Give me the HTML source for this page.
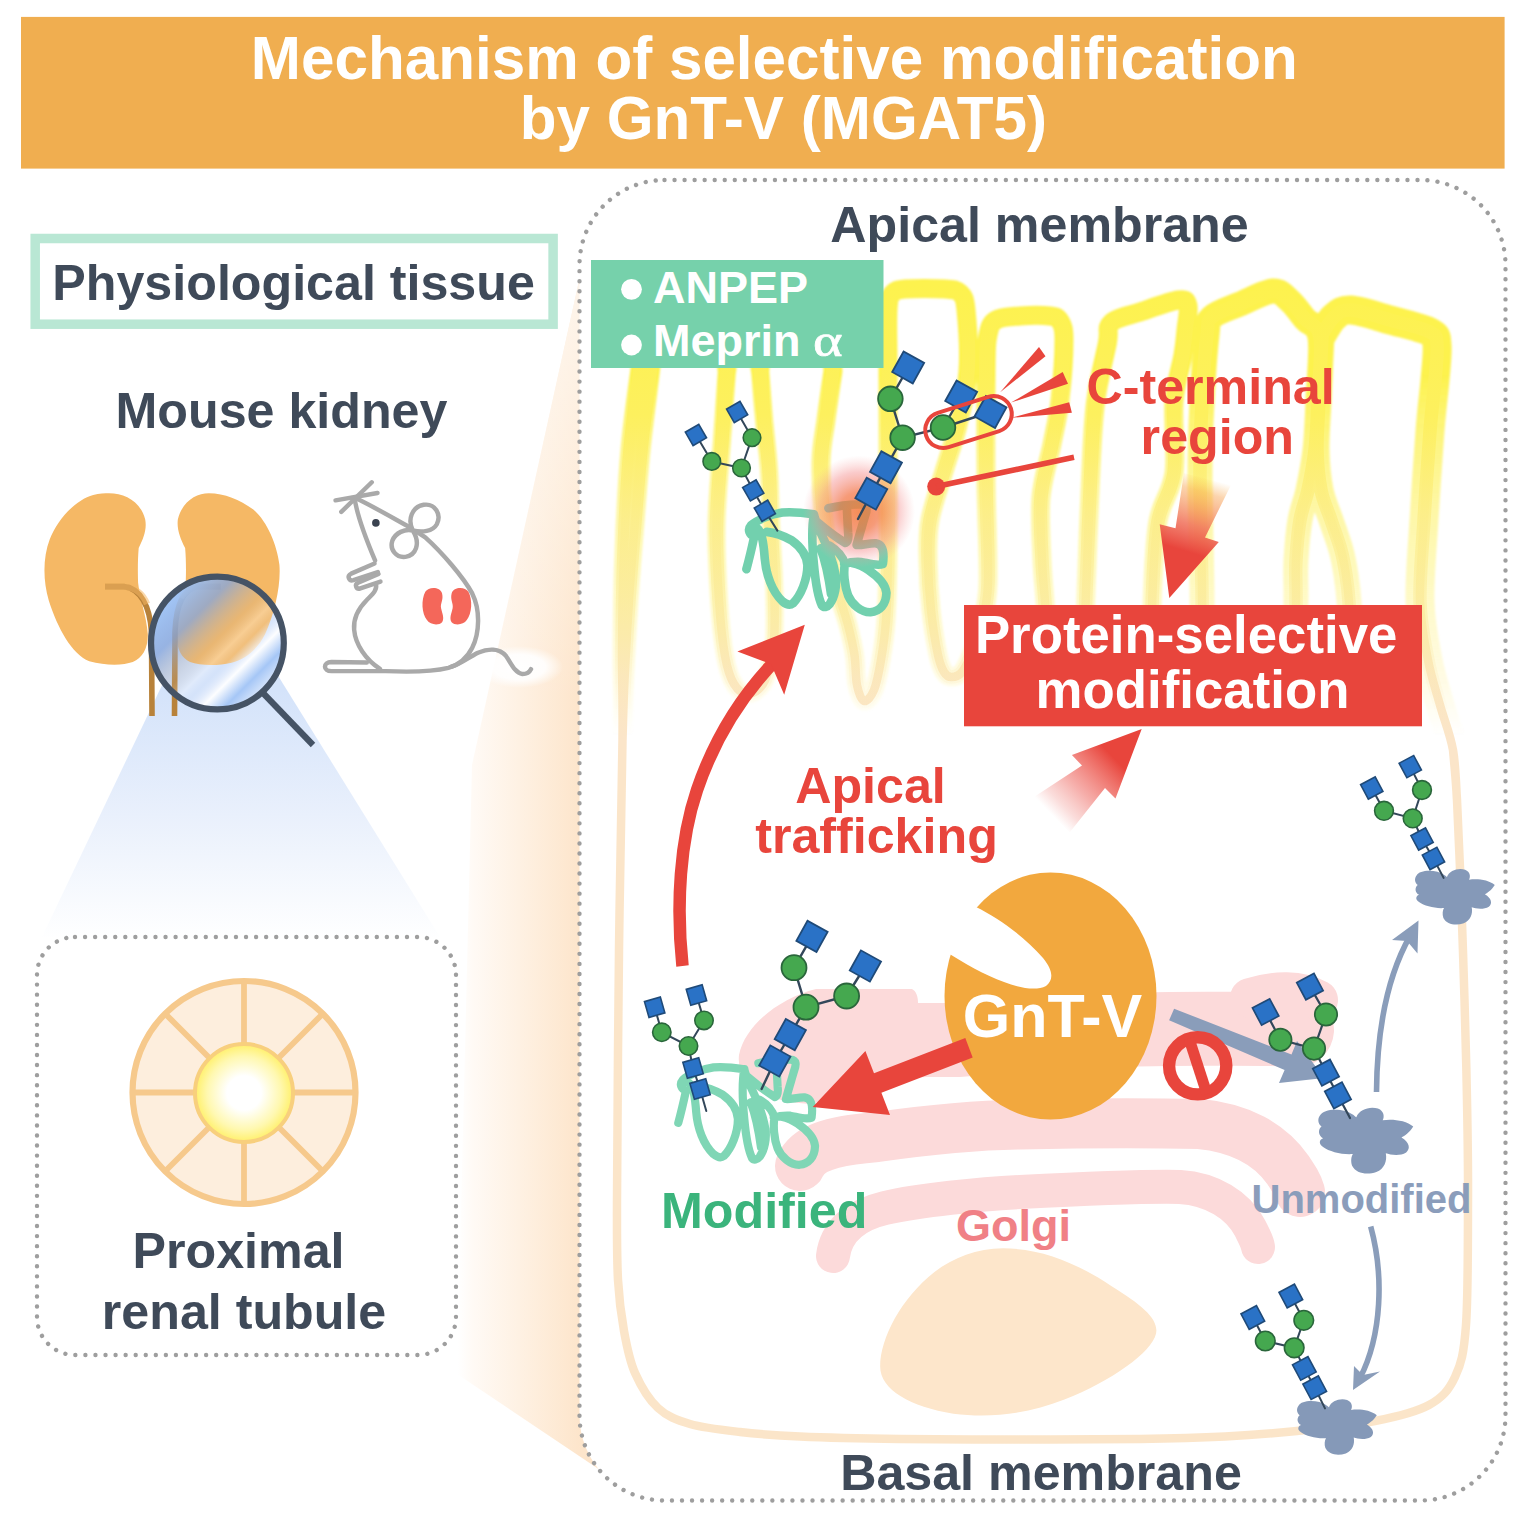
<!DOCTYPE html>
<html lang="en">
<head>
<meta charset="utf-8">
<title>Mechanism of selective modification by GnT-V (MGAT5)</title>
<style>
html,body{margin:0;padding:0;background:#fff;}
body{width:1524px;height:1518px;overflow:hidden;}
svg{display:block;}
text{font-family:"Liberation Sans",sans-serif;font-weight:bold;}
</style>
</head>
<body>
<svg width="1524" height="1518" viewBox="0 0 1524 1518">
<!-- 00_defs -->
<defs>
  <linearGradient id="coneGrad" x1="0" y1="690" x2="0" y2="940" gradientUnits="userSpaceOnUse">
    <stop offset="0" stop-color="#d4e3fa"/>
    <stop offset="0.5" stop-color="#e9f0fc"/>
    <stop offset="1" stop-color="#ffffff"/>
  </linearGradient>
  <linearGradient id="lensGrad" x1="172" y1="598" x2="266" y2="692" gradientUnits="userSpaceOnUse">
    <stop offset="0" stop-color="#9fc3f5" stop-opacity="0.95"/>
    <stop offset="0.22" stop-color="#86a6dc" stop-opacity="0.78"/>
    <stop offset="0.46" stop-color="#b9b0a8" stop-opacity="0.2"/>
    <stop offset="0.56" stop-color="#ffffff" stop-opacity="0.30"/>
    <stop offset="0.63" stop-color="#dbe7fb" stop-opacity="0.15"/>
    <stop offset="0.74" stop-color="#ffffff" stop-opacity="0.95"/>
    <stop offset="0.86" stop-color="#a3c5f6" stop-opacity="0.95"/>
    <stop offset="1" stop-color="#e4edfc" stop-opacity="0.9"/>
  </linearGradient>
  <radialGradient id="lumenGrad" cx="0.5" cy="0.5" r="0.5">
    <stop offset="0" stop-color="#ffffff"/>
    <stop offset="0.35" stop-color="#ffffff"/>
    <stop offset="0.75" stop-color="#fff8b0"/>
    <stop offset="1" stop-color="#fff06a"/>
  </radialGradient>
  <linearGradient id="beamGrad" x1="458" y1="0" x2="580" y2="0" gradientUnits="userSpaceOnUse">
    <stop offset="0" stop-color="#ffffff"/>
    <stop offset="0.12" stop-color="#fffaf5"/>
    <stop offset="0.5" stop-color="#fef1e3"/>
    <stop offset="1" stop-color="#fde5cb"/>
  </linearGradient>
  <radialGradient id="tailGlow" cx="0.5" cy="0.5" r="0.5">
    <stop offset="0" stop-color="#ffffff" stop-opacity="1"/>
    <stop offset="0.6" stop-color="#ffffff" stop-opacity="0.9"/>
    <stop offset="1" stop-color="#ffffff" stop-opacity="0"/>
  </radialGradient>
  <linearGradient id="beamFade" x1="0" y1="281" x2="0" y2="700" gradientUnits="userSpaceOnUse">
    <stop offset="0" stop-color="#ffffff" stop-opacity="0.6"/>
    <stop offset="1" stop-color="#ffffff" stop-opacity="0"/>
  </linearGradient>
</defs>

<!-- 10_left -->
<!-- header bar -->
<rect x="21" y="16.9" width="1483.6" height="151.7" fill="#f0ae50"/>
<!-- physiological tissue box -->
<rect x="35.2" y="238.5" width="517.9" height="85.7" fill="#ffffff" stroke="#b9e7d4" stroke-width="9.5"/>
<!-- light cone under magnifier -->
<polygon points="215,574 42,937 440,937" fill="url(#coneGrad)"/>
<circle cx="217.4" cy="643" r="66" fill="#d3e2fa"/>
<!-- kidneys -->
<g transform="translate(30,470) scale(0.19763)" fill="#f5b865">
  <path d="M400,118 C480,118 560,160 583,250 C592,300 575,345 550,395 C545,450 545,520 547,570 C555,650 590,740 596,830 C598,900 570,950 520,972 C470,990 380,990 300,968 C210,930 140,800 95,660 C65,560 65,440 100,350 C140,250 230,150 320,126 C350,119 380,118 400,118 Z"/>
  <path d="M905,118 C985,118 1060,150 1130,200 C1200,260 1250,380 1262,480 C1270,580 1240,720 1190,830 C1150,910 1090,955 1020,975 C950,992 860,990 810,972 C765,952 740,900 742,830 C748,740 780,650 788,570 C790,520 790,450 785,395 C760,345 742,300 748,250 C770,160 840,118 905,118 Z"/>
</g>
<!-- ureters -->
<g fill="none" stroke="#b8823a" stroke-width="5.6">
  <path d="M105,586.6 L124,586.6 C140,588 150,606 151.5,632 L152,716" />
  <path d="M220.7,586.6 L198,586.6 C182,589 176,606 175,632 L174.5,716" />
</g>
<!-- soften ureter portion inside kidneys -->
<g fill="none" stroke="#f5b865" stroke-opacity="0.55" stroke-width="6.4">
  <path d="M103,586.6 L124,586.6 C135,587.5 143,594 147,604"/>
  <path d="M223,586.6 L198,586.6 C190,588 184,592 181,598"/>
</g>
<!-- magnifier -->
<circle cx="217.4" cy="643" r="66.4" fill="url(#lensGrad)"/>
<circle cx="217.4" cy="643" r="66.4" fill="none" stroke="#455365" stroke-width="6.2"/>
<line x1="263" y1="693" x2="313" y2="745" stroke="#455365" stroke-width="6.2"/>
<!-- small dotted box -->
<rect x="37" y="937" width="419" height="418" rx="38" ry="38" fill="none" stroke="#9e9e9e" stroke-width="4.4" stroke-linecap="round" stroke-dasharray="0.01 10.05"/>
<!-- tubule -->
<g>
  <circle cx="244" cy="1092.5" r="111.5" fill="#fdeedd" stroke="#f6c98c" stroke-width="6.2"/>
  <g stroke="#f6c98c" stroke-width="5.8">
    <line x1="244" y1="981" x2="244" y2="1204"/>
    <line x1="132.5" y1="1092.5" x2="355.5" y2="1092.5"/>
    <line x1="165.2" y1="1013.7" x2="322.8" y2="1171.3"/>
    <line x1="165.2" y1="1171.3" x2="322.8" y2="1013.7"/>
  </g>
  <circle cx="244" cy="1093" r="49" fill="url(#lumenGrad)" stroke="#f8cf7d" stroke-width="4"/>
</g>

<!-- 20_beam_box -->
<!-- orange zoom beam -->
<polygon points="579,281 472,765 457,1374 600,1470 600,281" fill="url(#beamGrad)"/>
<polygon points="579,281 472,765 600,765 600,281" fill="url(#beamFade)"/>
<!-- big dotted cell box -->
<rect x="579.5" y="180" width="926" height="1320.5" rx="85" ry="85" fill="#ffffff" stroke="#9e9e9e" stroke-width="4.4" stroke-linecap="round" stroke-dasharray="0.01 10.03"/>
<!-- mouse -->
<ellipse cx="519" cy="667" rx="44" ry="21" fill="url(#tailGlow)"/>
<g transform="translate(310,460) scale(0.16469)">
  <path d="M270,228 C380,280 500,350 600,405 L700,470 C800,560 930,710 985,810 C1035,910 1030,1050 985,1140 C955,1200 900,1245 840,1262 C740,1287 600,1288 460,1282 L425,1268 C340,1215 275,1120 268,1030 C262,960 290,905 345,850 C380,815 410,790 400,752 L395,610 C340,480 285,340 270,228 Z" fill="#ffffff" stroke="none"/>
  <g fill="none" stroke="#a9a9a9" stroke-width="27" stroke-linecap="round" stroke-linejoin="round">
    <path d="M270,228 C380,280 500,350 600,405 L700,470 C800,560 930,710 985,810 C1035,910 1030,1050 985,1140 C955,1200 900,1245 840,1262 C740,1287 600,1288 460,1282 L130,1282 C78,1282 78,1228 130,1227 L345,1229"/>
    <path d="M270,228 C285,340 340,480 395,610"/>
    <path d="M400,752 C410,790 380,815 345,850 C290,905 262,960 268,1030 C275,1120 340,1215 425,1268"/>
    <path d="M392,628 L250,690 C222,704 236,738 264,730 L412,680" fill="#ffffff"/>
    <path d="M416,692 L292,745 C268,757 281,788 306,779 L428,738" fill="#ffffff"/>
    <path d="M155,245 L410,200"/>
    <path d="M190,315 L375,135"/>
    <path d="M624,428 C590,360 620,285 690,272 C760,262 800,330 770,390 C745,435 680,440 624,428 C575,418 520,440 500,490 C482,545 525,595 580,588 C640,580 675,510 624,428 Z" fill="#ffffff"/>
    <path d="M860,1255 C920,1235 960,1200 1020,1170 C1080,1145 1150,1140 1190,1190 C1220,1230 1240,1290 1290,1300 C1320,1300 1335,1285 1342,1270"/>
  </g>
  <circle cx="400" cy="382" r="23" fill="#3a4250"/>
  <g fill="#f4675a">
    <path d="M700,800 C720,768 790,768 802,810 C812,850 790,870 796,900 C802,930 818,960 802,985 C782,1007 730,1002 710,972 C678,930 674,850 700,800Z"/>
    <path d="M962,800 C942,768 872,768 860,810 C850,850 872,870 866,900 C860,930 844,960 860,985 C880,1007 932,1002 952,972 C984,930 988,850 962,800Z"/>
  </g>
</g>

<!-- 30_membrane -->
<defs>
<linearGradient id="memGrad" x1="0" y1="285" x2="0" y2="740" gradientUnits="userSpaceOnUse">
  <stop offset="0" stop-color="#fdf24e"/>
  <stop offset="0.25" stop-color="#fdf05e"/>
  <stop offset="0.45" stop-color="#fcee88"/>
  <stop offset="0.68" stop-color="#fbeca2"/>
  <stop offset="0.86" stop-color="#fbe7be"/>
  <stop offset="1" stop-color="#fbe5c9"/>
</linearGradient>
<linearGradient id="memCore" x1="0" y1="285" x2="0" y2="720" gradientUnits="userSpaceOnUse">
  <stop offset="0" stop-color="#fdf24e" stop-opacity="1"/>
  <stop offset="0.3" stop-color="#fdf05e" stop-opacity="1"/>
  <stop offset="0.55" stop-color="#fcee8c" stop-opacity="0.8"/>
  <stop offset="0.8" stop-color="#fbeca4" stop-opacity="0.45"/>
  <stop offset="1" stop-color="#fbe7be" stop-opacity="0"/>
</linearGradient>
<linearGradient id="memWide" x1="0" y1="285" x2="0" y2="735" gradientUnits="userSpaceOnUse">
  <stop offset="0" stop-color="#fdf24e" stop-opacity="1"/>
  <stop offset="0.2" stop-color="#fdf24e" stop-opacity="1"/>
  <stop offset="0.33" stop-color="#fdf258" stop-opacity="0.78"/>
  <stop offset="0.5" stop-color="#fdf26a" stop-opacity="0.6"/>
  <stop offset="0.7" stop-color="#fdf27a" stop-opacity="0.42"/>
  <stop offset="0.88" stop-color="#fdf08a" stop-opacity="0.22"/>
  <stop offset="1" stop-color="#fdf08a" stop-opacity="0"/>
</linearGradient>
<filter id="soft1" x="-5%" y="-5%" width="110%" height="110%"><feGaussianBlur stdDeviation="1.1"/></filter>

<path id="memPath" d="M652.0,300.0 C650.8,305.0 647.0,318.5 645.0,330.0 C643.0,341.5 642.5,349.0 640.0,369.0 C637.5,389.0 632.7,419.7 630.0,450.0 C627.3,480.3 625.3,517.7 624.0,551.0 C622.7,584.3 622.2,618.5 622.0,650.0 C621.8,681.5 623.0,690.0 622.5,740.0 C622.0,790.0 619.9,873.2 619.0,950.0 C618.1,1026.8 617.2,1146.0 617.0,1201.0 C616.8,1256.0 616.8,1258.3 618.0,1280.0 C619.2,1301.7 621.2,1315.5 624.0,1331.0 C626.8,1346.5 629.3,1360.2 635.0,1373.0 C640.7,1385.8 648.8,1399.5 658.0,1408.0 C667.2,1416.5 676.3,1420.0 690.0,1424.0 C703.7,1428.0 721.7,1429.9 740.0,1432.0 C758.3,1434.1 773.3,1435.3 800.0,1436.5 C826.7,1437.7 862.7,1438.5 900.0,1439.0 C937.3,1439.5 984.0,1439.5 1024.0,1439.5 C1064.0,1439.5 1106.5,1439.5 1140.0,1439.0 C1173.5,1438.5 1198.8,1437.8 1225.0,1436.5 C1251.2,1435.2 1272.0,1433.6 1297.0,1431.0 C1322.0,1428.4 1353.0,1425.3 1375.0,1421.0 C1397.0,1416.7 1415.7,1412.3 1429.0,1405.0 C1442.3,1397.7 1448.8,1390.3 1455.0,1377.0 C1461.2,1363.7 1463.8,1354.5 1466.0,1325.0 C1468.2,1295.5 1467.8,1237.5 1468.0,1200.0 C1468.2,1162.5 1467.6,1133.3 1467.0,1100.0 C1466.4,1066.7 1465.5,1034.3 1464.5,1000.0 C1463.5,965.7 1462.2,927.3 1461.0,894.0 C1459.8,860.7 1458.3,824.0 1457.0,800.0 C1455.7,776.0 1453.7,758.3 1453.0,750.0 M1457.0,800.0 C1456.3,791.7 1455.8,765.8 1453.0,750.0 C1450.2,734.2 1444.2,720.0 1440.0,705.0 C1435.8,690.0 1431.3,677.2 1428.0,660.0 C1424.7,642.8 1420.7,625.3 1420.0,602.0 C1419.3,578.7 1422.3,548.5 1424.0,520.0 C1425.7,491.5 1428.2,454.3 1430.0,431.0 C1431.8,407.7 1433.8,394.3 1435.0,380.0 C1436.2,365.7 1437.8,353.0 1437.0,345.0 C1436.2,337.0 1437.8,336.2 1430.0,332.0 C1422.2,327.8 1403.2,323.7 1390.0,320.0 C1376.8,316.3 1360.3,310.5 1351.0,310.0 C1341.7,309.5 1338.8,312.8 1334.0,317.0 C1329.2,321.2 1324.0,332.0 1322.0,335.0 M654.0,330.0 C653.4,336.5 652.8,349.0 650.6,369.0 C648.4,389.0 643.6,424.2 641.0,450.0 C638.4,475.8 636.8,499.0 634.8,524.0 C632.8,549.0 630.7,574.0 629.0,600.0 C627.3,626.0 625.6,656.7 624.5,680.0 C623.4,703.3 622.8,730.0 622.5,740.0 M640.0,369.0 C641.3,360.8 643.8,331.5 648.0,320.0 C652.2,308.5 656.3,303.3 665.0,300.0 C673.7,296.7 690.8,296.7 700.0,300.0 C709.2,303.3 715.5,308.5 720.0,320.0 C724.5,331.5 725.8,360.8 727.0,369.0 M727.0,369.0 C726.2,380.8 723.8,414.2 722.0,440.0 C720.2,465.8 717.0,497.3 716.5,524.0 C716.0,550.7 717.6,578.0 719.0,600.0 C720.4,622.0 722.5,642.0 725.0,656.0 C727.5,670.0 730.2,677.7 734.0,684.0 C737.8,690.3 743.2,694.0 748.0,694.0 C752.8,694.0 759.0,690.3 763.0,684.0 C767.0,677.7 770.1,665.0 772.0,656.0 C773.9,647.0 774.2,642.7 774.5,630.0 C774.8,617.3 774.6,597.7 774.0,580.0 C773.4,562.3 771.8,542.3 771.0,524.0 C770.2,505.7 770.2,487.5 769.0,470.0 C767.8,452.5 765.5,435.8 764.0,419.0 C762.5,402.2 760.7,377.3 760.0,369.0 M760.0,369.0 C760.3,360.8 759.5,331.5 762.0,320.0 C764.5,308.5 767.0,303.3 775.0,300.0 C783.0,296.7 801.2,296.7 810.0,300.0 C818.8,303.3 824.2,308.2 828.0,320.0 C831.8,331.8 832.2,362.5 833.0,371.0 M833.0,371.0 C831.8,379.2 828.0,404.8 826.0,420.0 C824.0,435.2 821.3,445.3 821.0,462.0 C820.7,478.7 821.7,500.3 824.0,520.0 C826.3,539.7 831.0,562.5 835.0,580.0 C839.0,597.5 844.8,612.5 848.0,625.0 C851.2,637.5 853.0,645.0 854.5,655.0 C856.0,665.0 855.4,677.3 857.0,685.0 C858.6,692.7 861.2,700.2 864.0,701.0 C866.8,701.8 871.2,696.8 874.0,690.0 C876.8,683.2 879.0,671.7 881.0,660.0 C883.0,648.3 884.8,638.0 886.0,620.0 C887.2,602.0 887.7,580.3 888.0,552.0 C888.3,523.7 888.0,480.7 888.0,450.0 C888.0,419.3 888.0,391.3 888.0,368.0 C888.0,344.7 887.3,322.3 888.0,310.0 C888.7,297.7 889.2,297.5 892.0,294.0 C894.8,290.5 896.2,289.8 905.0,289.0 C913.8,288.2 935.8,288.3 945.0,289.0 C954.2,289.7 956.5,289.5 960.0,293.0 C963.5,296.5 964.7,297.0 966.0,310.0 C967.3,323.0 969.3,351.8 968.0,371.0 C966.7,390.2 961.8,408.8 958.0,425.0 C954.2,441.2 949.7,452.2 945.0,468.0 C940.3,483.8 932.8,504.7 930.0,520.0 C927.2,535.3 927.8,545.0 928.0,560.0 C928.2,575.0 929.3,594.2 931.0,610.0 C932.7,625.8 935.8,644.7 938.0,655.0 C940.2,665.3 941.8,668.3 944.0,672.0 C946.2,675.7 948.5,677.0 951.5,677.0 C954.5,677.0 958.4,676.5 962.0,672.0 C965.6,667.5 969.7,658.7 973.0,650.0 C976.3,641.3 979.5,631.2 982.0,620.0 C984.5,608.8 987.3,606.3 988.0,583.0 C988.7,559.7 986.3,515.3 986.0,480.0 C985.7,444.7 985.7,395.2 986.0,371.0 C986.3,346.8 986.3,343.5 988.0,335.0 C989.7,326.5 990.7,323.2 996.0,320.0 C1001.3,316.8 1011.0,316.7 1020.0,316.0 C1029.0,315.3 1043.3,315.2 1050.0,316.0 C1056.7,316.8 1057.7,317.0 1060.0,321.0 C1062.3,325.0 1064.0,326.8 1064.0,340.0 C1064.0,353.2 1062.0,382.7 1060.0,400.0 C1058.0,417.3 1055.2,427.8 1052.0,444.0 C1048.8,460.2 1042.7,477.7 1041.0,497.0 C1039.3,516.3 1041.3,542.5 1042.0,560.0 C1042.7,577.5 1044.0,587.0 1045.0,602.0 C1046.0,617.0 1047.5,642.0 1048.0,650.0 M1084.0,650.0 C1084.3,640.3 1084.9,621.5 1086.0,592.0 C1087.1,562.5 1089.2,504.7 1090.8,473.0 C1092.4,441.3 1092.8,423.7 1095.6,402.0 C1098.4,380.3 1104.8,356.2 1107.4,343.0 C1110.0,329.8 1105.6,328.2 1111.0,323.0 C1116.4,317.8 1128.7,315.8 1140.0,312.0 C1151.3,308.2 1170.6,301.0 1178.6,300.0 C1186.6,299.0 1186.8,301.0 1188.0,306.0 C1189.2,311.0 1186.8,321.8 1186.0,330.0 C1185.2,338.2 1185.0,343.0 1183.0,355.0 C1181.0,367.0 1175.5,382.3 1174.0,402.0 C1172.5,421.7 1176.7,453.2 1174.0,473.0 C1171.3,492.8 1161.6,501.2 1158.0,521.0 C1154.4,540.8 1153.5,570.5 1152.5,592.0 C1151.5,613.5 1152.1,640.3 1152.0,650.0 M1202.0,650.0 C1202.0,640.3 1202.3,621.5 1202.0,592.0 C1201.7,562.5 1200.0,504.7 1200.0,473.0 C1200.0,441.3 1200.8,425.0 1202.0,402.0 C1203.2,379.0 1205.3,349.2 1207.0,335.0 C1208.7,320.8 1206.5,322.2 1212.0,317.0 C1217.5,311.8 1229.8,308.3 1240.0,304.0 C1250.2,299.7 1264.7,291.5 1273.0,291.0 C1281.3,290.5 1284.7,296.3 1290.0,301.0 C1295.3,305.7 1300.0,313.0 1305.0,319.0 C1310.0,325.0 1317.8,323.5 1320.0,337.0 C1322.2,350.5 1318.8,381.2 1318.0,400.0 C1317.2,418.8 1316.7,435.0 1315.0,450.0 C1313.3,465.0 1310.5,478.3 1308.0,490.0 C1305.5,501.7 1302.0,508.3 1300.0,520.0 C1298.0,531.7 1296.7,547.7 1296.0,560.0 C1295.3,572.3 1296.0,579.0 1296.0,594.0 C1296.0,609.0 1296.0,640.7 1296.0,650.0 M1322.0,335.0 C1321.5,345.8 1319.8,380.8 1319.0,400.0 C1318.2,419.2 1316.7,435.0 1317.0,450.0 C1317.3,465.0 1318.7,478.3 1321.0,490.0 C1323.3,501.7 1327.7,510.0 1331.0,520.0 C1334.3,530.0 1338.5,540.8 1341.0,550.0 C1343.5,559.2 1344.7,566.3 1346.0,575.0 C1347.3,583.7 1348.2,589.5 1349.0,602.0 C1349.8,614.5 1350.7,642.0 1351.0,650.0"/>
</defs>
<g fill="none" stroke-linecap="round" stroke-linejoin="round">
<g stroke="url(#memWide)" filter="url(#soft1)">
<path d="M727.0,369.0 C726.2,380.8 723.8,414.2 722.0,440.0 C720.2,465.8 717.0,497.3 716.5,524.0 C716.0,550.7 717.6,578.0 719.0,600.0 C720.4,622.0 722.5,642.0 725.0,656.0 C727.5,670.0 730.2,677.7 734.0,684.0 C737.8,690.3 743.2,694.0 748.0,694.0 C752.8,694.0 759.0,690.3 763.0,684.0 C767.0,677.7 770.1,665.0 772.0,656.0 C773.9,647.0 774.2,642.7 774.5,630.0 C774.8,617.3 774.6,597.7 774.0,580.0 C773.4,562.3 771.8,542.3 771.0,524.0 C770.2,505.7 770.2,487.5 769.0,470.0 C767.8,452.5 765.5,435.8 764.0,419.0 C762.5,402.2 760.7,377.3 760.0,369.0" stroke-width="18"/>
<path d="M652.0,300.0 C650.8,305.0 647.0,318.5 645.0,330.0 C643.0,341.5 642.5,349.0 640.0,369.0 C637.5,389.0 632.7,419.7 630.0,450.0 C627.3,480.3 625.3,517.7 624.0,551.0 C622.7,584.3 622.2,618.5 622.0,650.0 C621.8,681.5 623.0,690.0 622.5,740.0 C622.0,790.0 619.9,873.2 619.0,950.0 C618.1,1026.8 617.2,1146.0 617.0,1201.0 C616.8,1256.0 616.8,1258.3 618.0,1280.0 C619.2,1301.7 621.2,1315.5 624.0,1331.0 C626.8,1346.5 629.3,1360.2 635.0,1373.0 C640.7,1385.8 648.8,1399.5 658.0,1408.0 C667.2,1416.5 676.3,1420.0 690.0,1424.0 C703.7,1428.0 721.7,1429.9 740.0,1432.0 C758.3,1434.1 773.3,1435.3 800.0,1436.5 C826.7,1437.7 862.7,1438.5 900.0,1439.0 C937.3,1439.5 984.0,1439.5 1024.0,1439.5 C1064.0,1439.5 1106.5,1439.5 1140.0,1439.0 C1173.5,1438.5 1198.8,1437.8 1225.0,1436.5 C1251.2,1435.2 1272.0,1433.6 1297.0,1431.0 C1322.0,1428.4 1353.0,1425.3 1375.0,1421.0 C1397.0,1416.7 1415.7,1412.3 1429.0,1405.0 C1442.3,1397.7 1448.8,1390.3 1455.0,1377.0 C1461.2,1363.7 1463.8,1354.5 1466.0,1325.0 C1468.2,1295.5 1467.8,1237.5 1468.0,1200.0 C1468.2,1162.5 1467.6,1133.3 1467.0,1100.0 C1466.4,1066.7 1465.5,1034.3 1464.5,1000.0 C1463.5,965.7 1462.2,927.3 1461.0,894.0 C1459.8,860.7 1458.3,824.0 1457.0,800.0 C1455.7,776.0 1453.7,758.3 1453.0,750.0 M654.0,330.0 C653.4,336.5 652.8,349.0 650.6,369.0 C648.4,389.0 643.6,424.2 641.0,450.0 C638.4,475.8 636.8,499.0 634.8,524.0 C632.8,549.0 630.7,574.0 629.0,600.0 C627.3,626.0 625.6,656.7 624.5,680.0 C623.4,703.3 622.8,730.0 622.5,740.0 M640.0,369.0 C641.3,360.8 643.8,331.5 648.0,320.0 C652.2,308.5 656.3,303.3 665.0,300.0 C673.7,296.7 690.8,296.7 700.0,300.0 C709.2,303.3 715.5,308.5 720.0,320.0 C724.5,331.5 725.8,360.8 727.0,369.0 M760.0,369.0 C760.3,360.8 759.5,331.5 762.0,320.0 C764.5,308.5 767.0,303.3 775.0,300.0 C783.0,296.7 801.2,296.7 810.0,300.0 C818.8,303.3 824.2,308.2 828.0,320.0 C831.8,331.8 832.2,362.5 833.0,371.0 M833.0,371.0 C831.8,379.2 828.0,404.8 826.0,420.0 C824.0,435.2 821.3,445.3 821.0,462.0 C820.7,478.7 821.7,500.3 824.0,520.0 C826.3,539.7 831.0,562.5 835.0,580.0 C839.0,597.5 844.8,612.5 848.0,625.0 C851.2,637.5 853.0,645.0 854.5,655.0 C856.0,665.0 855.4,677.3 857.0,685.0 C858.6,692.7 861.2,700.2 864.0,701.0 C866.8,701.8 871.2,696.8 874.0,690.0 C876.8,683.2 879.0,671.7 881.0,660.0 C883.0,648.3 884.8,638.0 886.0,620.0 C887.2,602.0 887.7,580.3 888.0,552.0 C888.3,523.7 888.0,480.7 888.0,450.0 C888.0,419.3 888.0,391.3 888.0,368.0 C888.0,344.7 887.3,322.3 888.0,310.0 C888.7,297.7 889.2,297.5 892.0,294.0 C894.8,290.5 896.2,289.8 905.0,289.0 C913.8,288.2 935.8,288.3 945.0,289.0 C954.2,289.7 956.5,289.5 960.0,293.0 C963.5,296.5 964.7,297.0 966.0,310.0 C967.3,323.0 969.3,351.8 968.0,371.0 C966.7,390.2 961.8,408.8 958.0,425.0 C954.2,441.2 949.7,452.2 945.0,468.0 C940.3,483.8 932.8,504.7 930.0,520.0 C927.2,535.3 927.8,545.0 928.0,560.0 C928.2,575.0 929.3,594.2 931.0,610.0 C932.7,625.8 935.8,644.7 938.0,655.0 C940.2,665.3 941.8,668.3 944.0,672.0 C946.2,675.7 948.5,677.0 951.5,677.0 C954.5,677.0 958.4,676.5 962.0,672.0 C965.6,667.5 969.7,658.7 973.0,650.0 C976.3,641.3 979.5,631.2 982.0,620.0 C984.5,608.8 987.3,606.3 988.0,583.0 C988.7,559.7 986.3,515.3 986.0,480.0 C985.7,444.7 985.7,395.2 986.0,371.0 C986.3,346.8 986.3,343.5 988.0,335.0 C989.7,326.5 990.7,323.2 996.0,320.0 C1001.3,316.8 1011.0,316.7 1020.0,316.0 C1029.0,315.3 1043.3,315.2 1050.0,316.0 C1056.7,316.8 1057.7,317.0 1060.0,321.0 C1062.3,325.0 1064.0,326.8 1064.0,340.0 C1064.0,353.2 1062.0,382.7 1060.0,400.0 C1058.0,417.3 1055.2,427.8 1052.0,444.0 C1048.8,460.2 1042.7,477.7 1041.0,497.0 C1039.3,516.3 1041.3,542.5 1042.0,560.0 C1042.7,577.5 1044.0,587.0 1045.0,602.0 C1046.0,617.0 1047.5,642.0 1048.0,650.0 M1084.0,650.0 C1084.3,640.3 1084.9,621.5 1086.0,592.0 C1087.1,562.5 1089.2,504.7 1090.8,473.0 C1092.4,441.3 1092.8,423.7 1095.6,402.0 C1098.4,380.3 1104.8,356.2 1107.4,343.0 C1110.0,329.8 1105.6,328.2 1111.0,323.0 C1116.4,317.8 1128.7,315.8 1140.0,312.0 C1151.3,308.2 1170.6,301.0 1178.6,300.0 C1186.6,299.0 1186.8,301.0 1188.0,306.0 C1189.2,311.0 1186.8,321.8 1186.0,330.0 C1185.2,338.2 1185.0,343.0 1183.0,355.0 C1181.0,367.0 1175.5,382.3 1174.0,402.0 C1172.5,421.7 1176.7,453.2 1174.0,473.0 C1171.3,492.8 1161.6,501.2 1158.0,521.0 C1154.4,540.8 1153.5,570.5 1152.5,592.0 C1151.5,613.5 1152.1,640.3 1152.0,650.0" stroke-width="19"/>
<path d="M1202.0,650.0 C1202.0,640.3 1202.3,621.5 1202.0,592.0 C1201.7,562.5 1200.0,504.7 1200.0,473.0 C1200.0,441.3 1200.8,425.0 1202.0,402.0 C1203.2,379.0 1205.3,349.2 1207.0,335.0 C1208.7,320.8 1206.5,322.2 1212.0,317.0 C1217.5,311.8 1229.8,308.3 1240.0,304.0 C1250.2,299.7 1264.7,291.5 1273.0,291.0 C1281.3,290.5 1284.7,296.3 1290.0,301.0 C1295.3,305.7 1300.0,313.0 1305.0,319.0 C1310.0,325.0 1317.8,323.5 1320.0,337.0 C1322.2,350.5 1318.8,381.2 1318.0,400.0 C1317.2,418.8 1316.7,435.0 1315.0,450.0 C1313.3,465.0 1310.5,478.3 1308.0,490.0 C1305.5,501.7 1302.0,508.3 1300.0,520.0 C1298.0,531.7 1296.7,547.7 1296.0,560.0 C1295.3,572.3 1296.0,579.0 1296.0,594.0 C1296.0,609.0 1296.0,640.7 1296.0,650.0 M1322.0,335.0 C1321.5,345.8 1319.8,380.8 1319.0,400.0 C1318.2,419.2 1316.7,435.0 1317.0,450.0 C1317.3,465.0 1318.7,478.3 1321.0,490.0 C1323.3,501.7 1327.7,510.0 1331.0,520.0 C1334.3,530.0 1338.5,540.8 1341.0,550.0 C1343.5,559.2 1344.7,566.3 1346.0,575.0 C1347.3,583.7 1348.2,589.5 1349.0,602.0 C1349.8,614.5 1350.7,642.0 1351.0,650.0" stroke-width="25"/>
<path d="M1457.0,800.0 C1456.3,791.7 1455.8,765.8 1453.0,750.0 C1450.2,734.2 1444.2,720.0 1440.0,705.0 C1435.8,690.0 1431.3,677.2 1428.0,660.0 C1424.7,642.8 1420.7,625.3 1420.0,602.0 C1419.3,578.7 1422.3,548.5 1424.0,520.0 C1425.7,491.5 1428.2,454.3 1430.0,431.0 C1431.8,407.7 1433.8,394.3 1435.0,380.0 C1436.2,365.7 1437.8,353.0 1437.0,345.0 C1436.2,337.0 1437.8,336.2 1430.0,332.0 C1422.2,327.8 1403.2,323.7 1390.0,320.0 C1376.8,316.3 1360.3,310.5 1351.0,310.0 C1341.7,309.5 1338.8,312.8 1334.0,317.0 C1329.2,321.2 1324.0,332.0 1322.0,335.0" stroke-width="29"/>
</g>
<use href="#memPath" stroke="url(#memGrad)" stroke-width="8.5"/>
<use href="#memPath" stroke="url(#memCore)" stroke-width="13.5"/>
</g>
<!-- 40_golgi -->
<!-- Golgi bands, nucleus -->
<g fill="none" stroke="#fcdada" stroke-linecap="round" stroke-linejoin="round">
  <!-- top band -->
  <path d="M930,1040 C940,1040 950,1040 960,1040 C1030,1034 1100,1029 1170,1029 C1220,1029 1265,1028 1297,1030" stroke-width="74"/>
  <path d="M816,989 C780,998 745,1025 739,1055 C736,1082 762,1102 812,1104 C828,1098 842,1090 854,1085 C890,1078 920,1076.5 944,1077 L944,1003 L918,1003 C918,996 916,991 912,989 Z" fill="#fcdada" stroke="none"/>
  <path d="M1250,998 C1275,990 1300,990 1318,1000" stroke-width="40"/>
  <!-- middle band -->
  <path d="M800,1166 C808,1148 830,1141 877,1137 C920,1131 980,1125 1020,1124.5 C1090,1123 1150,1123 1200,1124 C1240,1128 1270,1144 1288,1170 C1294,1179 1298,1185 1300,1192" stroke-width="50"/>
  <!-- bottom band -->
  <path d="M833,1256 C836,1232 855,1215 885,1208 C920,1200 980,1194 1020,1192 C1080,1189 1140,1186 1180,1187 C1212,1189 1238,1205 1250,1228 C1254,1236 1257,1241 1258,1247" stroke-width="34"/>
</g>
<path transform="translate(840,1220) scale(0.23622)" d="M690,120 C850,120 1000,180 1150,280 C1280,360 1350,420 1338,480 C1320,560 1150,680 950,760 C800,820 640,840 480,820 C300,790 170,720 170,620 C170,500 260,330 400,220 C480,160 580,120 690,120 Z" fill="#fde6cb"/>
<!-- GnT-V -->
<g>
  <ellipse cx="1050.5" cy="996" rx="106" ry="123.5" fill="#f2a83e"/>
  <path d="M976,907 C998,918 1024,936 1043,958 C1053,970 1054,980 1046,986 C1036,991 1020,988 1004,982 C985,975 965,964 940,948 L930,905 Z" fill="#ffffff"/>
</g>

<!-- 50_proteins -->
<defs>
  <path id="scribble" d="M125,680 C150,590 170,500 185,430 C150,420 130,380 160,345 C200,310 300,262 400,248 C480,240 560,250 640,262 M200,365 C240,380 255,470 265,600 C275,720 320,850 400,925 C430,950 460,955 480,940 C540,880 590,760 590,650 C585,570 540,510 470,460 C400,420 330,400 280,395 M640,262 C625,340 625,500 640,650 C650,760 665,880 700,955 C715,975 740,970 760,945 C800,890 815,800 805,730 C790,640 740,500 690,400 C670,350 650,310 640,262 M690,520 C720,600 750,720 770,870 M640,300 C700,350 780,420 880,480 C900,470 905,440 900,400 L890,200 M750,215 C830,195 920,185 1000,187 C1050,190 1045,230 1030,270 C1010,340 985,420 965,495 C1000,500 1060,480 1110,482 C1160,490 1180,530 1165,640 C1120,660 1040,630 1000,625 C950,622 900,630 870,640 M760,500 C810,530 860,580 875,640 C865,700 870,800 900,880 C930,950 1000,1010 1070,1008 C1140,1000 1190,950 1192,860 C1185,790 1120,730 1060,690 C1020,660 970,640 930,632"/>
  <radialGradient id="redGlow" cx="0.5" cy="0.5" r="0.5">
    <stop offset="0" stop-color="#f47a3a" stop-opacity="0.85"/>
    <stop offset="0.35" stop-color="#f2703f" stop-opacity="0.7"/>
    <stop offset="0.7" stop-color="#f48a8a" stop-opacity="0.45"/>
    <stop offset="1" stop-color="#f8a8a8" stop-opacity="0"/>
  </radialGradient>
  <path id="blob" d="M580,1030 C600,990 680,985 740,1000 C780,1012 800,1030 812,1040 C830,990 900,968 950,985 C990,1000 992,1040 980,1060 C1040,1050 1130,1060 1175,1100 C1150,1140 1120,1160 1100,1170 C1150,1200 1160,1240 1130,1265 C1090,1290 1030,1280 1000,1270 C1010,1320 990,1370 940,1390 C880,1410 810,1400 785,1350 C775,1320 780,1290 790,1275 C720,1280 640,1260 600,1230 C570,1210 575,1185 600,1175 C570,1160 565,1120 590,1100 C565,1080 565,1050 580,1030 Z"/>
</defs>
<!-- top protein -->
<g transform="translate(730,480) scale(0.13123)" fill="none" stroke="#72d0ae" stroke-width="66" stroke-linecap="round" stroke-linejoin="round">
  <use href="#scribble"/>
</g>
<circle cx="859" cy="511.5" r="56" fill="url(#redGlow)"/>
<!-- golgi protein -->
<g transform="translate(662.29,1035.63) scale(0.12814)" fill="none" stroke="#7fd6b5" stroke-width="64" stroke-linecap="round" stroke-linejoin="round">
  <use href="#scribble"/>
</g>
<!-- unmodified blobs -->
<g fill="#8599b8">
  <use href="#blob" transform="translate(1414.4,868.5) scale(0.13175) translate(-565,-975)"/>
  <use href="#blob" transform="translate(1317.6,1107) scale(0.15678) translate(-565,-975)"/>
  <use href="#blob" transform="translate(1296.4,1398.7) scale(0.13175) translate(-565,-975)"/>
</g>

<!-- 60_arrows -->
<defs>
  <linearGradient id="gArrow1" x1="1052" y1="815" x2="1141" y2="729" gradientUnits="userSpaceOnUse">
    <stop offset="0" stop-color="#f08a84" stop-opacity="0"/>
    <stop offset="0.12" stop-color="#f08a84" stop-opacity="0.3"/>
    <stop offset="0.3" stop-color="#f07a74" stop-opacity="0.6"/>
    <stop offset="0.5" stop-color="#ee6a62" stop-opacity="0.88"/>
    <stop offset="0.68" stop-color="#e8453c" stop-opacity="1"/>
    <stop offset="1" stop-color="#e8453c" stop-opacity="1"/>
  </linearGradient>
  <linearGradient id="gArrow2" x1="1208" y1="478" x2="1172" y2="596" gradientUnits="userSpaceOnUse">
    <stop offset="0" stop-color="#f7b04a" stop-opacity="0"/>
    <stop offset="0.12" stop-color="#f7a04a" stop-opacity="0.45"/>
    <stop offset="0.4" stop-color="#f0705a" stop-opacity="0.85"/>
    <stop offset="0.62" stop-color="#e8453c" stop-opacity="1"/>
    <stop offset="1" stop-color="#e8453c" stop-opacity="1"/>
  </linearGradient>
</defs>
<!-- green label box and red label box -->
<rect x="591" y="260" width="292.5" height="108" fill="#76d1ab"/>
<circle cx="631.5" cy="289.3" r="10.4" fill="#ffffff"/>
<circle cx="631.5" cy="345" r="10.4" fill="#ffffff"/>
<rect x="964" y="605" width="458" height="121.3" fill="#e8453c"/>
<!-- gradient arrows -->
<polygon points="1141.7,729.1 1071.9,755.1 1082,765.6 1034,797 1069.6,832.5 1105,788 1115.5,798.4" fill="url(#gArrow1)"/>
<polygon points="1169.3,598 1159.7,524.3 1175.5,528.2 1184,473 1231,485 1205,537.4 1218.8,542" fill="url(#gArrow2)"/>
<!-- apical trafficking arrow -->
<path d="M682.5,966 C676,905 680,840 697,790 C714,740 742,695 776,660" fill="none" stroke="#e8453c" stroke-width="12.5"/>
<polygon points="804.8,624.8 737.4,651.4 771,664 784.2,694.7" fill="#e8453c"/>
<!-- GnT-V red arrow -->
<polygon points="972.7,1057.5 965.3,1037.9 874,1073.2 865.4,1051 812.7,1107 890,1115 881.4,1092.8" fill="#e8453c"/>
<!-- grey arrow from GnT-V -->
<g fill="#8a9dba">
  <polygon points="1174.1,1008.7 1169.1,1020.3 1284.6,1070 1279,1083 1324,1078 1297,1041 1291.5,1054.6"/>
</g>
<!-- prohibition sign -->
<g stroke="#e8453c" fill="none">
  <circle cx="1197.7" cy="1065.8" r="28.6" stroke-width="12.4"/>
  <line x1="1189" y1="1038.5" x2="1207" y2="1094" stroke-width="11"/>
</g>
<!-- thin curved grey arrows -->
<g fill="none" stroke="#8a9dba" stroke-width="5.6">
  <path d="M1376.5,1092 C1377,1030 1388,975 1410,936"/>
  <path d="M1370.7,1226.5 C1384,1275 1382,1335 1360,1378"/>
</g>
<g fill="#8a9dba">
  <polygon points="1418.5,920.5 1392,940 1407,941 1417.5,953.5"/>
  <polygon points="1353,1390 1354,1366 1363,1375 1380,1371.5"/>
</g>

<!-- 70_glycans -->
<g>
<g stroke="#33475a" stroke-width="2.0" stroke-linecap="round">
<line x1="696.0" y1="435.0" x2="711.8" y2="461.4"/>
<line x1="711.8" y1="461.4" x2="741.5" y2="468.0"/>
<line x1="737.2" y1="412.0" x2="752.0" y2="437.7"/>
<line x1="752.0" y1="437.7" x2="741.5" y2="468.0"/>
<line x1="741.5" y1="468.0" x2="753.3" y2="490.4"/>
<line x1="753.3" y1="490.4" x2="764.9" y2="510.8"/>
<line x1="764.9" y1="510.8" x2="777.4" y2="530.6"/>
</g>
<rect x="-7.8" y="-7.8" width="15.5" height="15.5" transform="translate(737.2,412.0) rotate(-30.0)" fill="#2a72c6" stroke="#1f4a78" stroke-width="1.6"/>
<rect x="-7.8" y="-7.8" width="15.5" height="15.5" transform="translate(696.0,435.0) rotate(-30.0)" fill="#2a72c6" stroke="#1f4a78" stroke-width="1.6"/>
<circle cx="752.0" cy="437.7" r="8.8" fill="#45a84f" stroke="#2a663b" stroke-width="1.6"/>
<circle cx="711.8" cy="461.4" r="8.8" fill="#45a84f" stroke="#2a663b" stroke-width="1.6"/>
<circle cx="741.5" cy="468.0" r="8.8" fill="#45a84f" stroke="#2a663b" stroke-width="1.6"/>
<rect x="-7.8" y="-7.8" width="15.5" height="15.5" transform="translate(753.3,490.4) rotate(-30.0)" fill="#2a72c6" stroke="#1f4a78" stroke-width="1.6"/>
<rect x="-7.8" y="-7.8" width="15.5" height="15.5" transform="translate(764.9,510.8) rotate(-30.0)" fill="#2a72c6" stroke="#1f4a78" stroke-width="1.6"/>
</g>
<g>
<g stroke="#33475a" stroke-width="2.4" stroke-linecap="round">
<line x1="908.2" y1="367.5" x2="890.4" y2="398.8"/>
<line x1="890.4" y1="398.8" x2="902.6" y2="437.7"/>
<line x1="902.6" y1="437.7" x2="943.0" y2="427.5"/>
<line x1="943.0" y1="427.5" x2="961.2" y2="396.5"/>
<line x1="943.0" y1="427.5" x2="990.5" y2="412.0"/>
<line x1="902.6" y1="437.7" x2="886.0" y2="467.3"/>
<line x1="886.0" y1="467.3" x2="871.3" y2="493.7"/>
<line x1="871.3" y1="493.7" x2="858.0" y2="519.0"/>
</g>
<rect x="-11.8" y="-11.8" width="23.5" height="23.5" transform="translate(908.2,367.5) rotate(29.0)" fill="#2a72c6" stroke="#1f4a78" stroke-width="1.8"/>
<circle cx="890.4" cy="398.8" r="12.3" fill="#45a84f" stroke="#2a663b" stroke-width="1.8"/>
<circle cx="902.6" cy="437.7" r="12.3" fill="#45a84f" stroke="#2a663b" stroke-width="1.8"/>
<circle cx="943.0" cy="427.5" r="12.3" fill="#45a84f" stroke="#2a663b" stroke-width="1.8"/>
<rect x="-11.8" y="-11.8" width="23.5" height="23.5" transform="translate(961.2,396.5) rotate(29.0)" fill="#2a72c6" stroke="#1f4a78" stroke-width="1.8"/>
<rect x="-11.8" y="-11.8" width="23.5" height="23.5" transform="translate(990.5,412.0) rotate(29.0)" fill="#2a72c6" stroke="#1f4a78" stroke-width="1.8"/>
<rect x="-11.8" y="-11.8" width="23.5" height="23.5" transform="translate(886.0,467.3) rotate(29.0)" fill="#2a72c6" stroke="#1f4a78" stroke-width="1.8"/>
<rect x="-11.8" y="-11.8" width="23.5" height="23.5" transform="translate(871.3,493.7) rotate(29.0)" fill="#2a72c6" stroke="#1f4a78" stroke-width="1.8"/>
</g>
<g>
<g stroke="#33475a" stroke-width="2.0" stroke-linecap="round">
<line x1="654.6" y1="1007.2" x2="661.8" y2="1032.3"/>
<line x1="661.8" y1="1032.3" x2="688.5" y2="1046.0"/>
<line x1="696.4" y1="995.0" x2="704.0" y2="1020.4"/>
<line x1="704.0" y1="1020.4" x2="688.5" y2="1046.0"/>
<line x1="688.5" y1="1046.0" x2="693.0" y2="1068.0"/>
<line x1="693.0" y1="1068.0" x2="700.0" y2="1089.0"/>
<line x1="700.0" y1="1089.0" x2="706.3" y2="1111.0"/>
</g>
<rect x="-8.2" y="-8.2" width="16.5" height="16.5" transform="translate(654.6,1007.2) rotate(-16.0)" fill="#2a72c6" stroke="#1f4a78" stroke-width="1.6"/>
<rect x="-8.2" y="-8.2" width="16.5" height="16.5" transform="translate(696.4,995.0) rotate(-16.0)" fill="#2a72c6" stroke="#1f4a78" stroke-width="1.6"/>
<circle cx="661.8" cy="1032.3" r="9.2" fill="#45a84f" stroke="#2a663b" stroke-width="1.6"/>
<circle cx="704.0" cy="1020.4" r="9.2" fill="#45a84f" stroke="#2a663b" stroke-width="1.6"/>
<circle cx="688.5" cy="1046.0" r="9.2" fill="#45a84f" stroke="#2a663b" stroke-width="1.6"/>
<rect x="-8.2" y="-8.2" width="16.5" height="16.5" transform="translate(693.0,1068.0) rotate(-16.0)" fill="#2a72c6" stroke="#1f4a78" stroke-width="1.6"/>
<rect x="-8.2" y="-8.2" width="16.5" height="16.5" transform="translate(700.0,1089.0) rotate(-16.0)" fill="#2a72c6" stroke="#1f4a78" stroke-width="1.6"/>
</g>
<g>
<g stroke="#33475a" stroke-width="2.4" stroke-linecap="round">
<line x1="812.0" y1="936.4" x2="794.0" y2="967.7"/>
<line x1="794.0" y1="967.7" x2="806.0" y2="1007.2"/>
<line x1="806.0" y1="1007.2" x2="846.6" y2="996.0"/>
<line x1="846.6" y1="996.0" x2="865.4" y2="966.0"/>
<line x1="806.0" y1="1007.2" x2="790.3" y2="1034.6"/>
<line x1="790.3" y1="1034.6" x2="774.8" y2="1061.0"/>
<line x1="774.8" y1="1061.0" x2="761.6" y2="1089.0"/>
</g>
<rect x="-11.5" y="-11.5" width="23.0" height="23.0" transform="translate(812.0,936.4) rotate(29.0)" fill="#2a72c6" stroke="#1f4a78" stroke-width="1.8"/>
<circle cx="794.0" cy="967.7" r="12.5" fill="#45a84f" stroke="#2a663b" stroke-width="1.8"/>
<circle cx="806.0" cy="1007.2" r="12.5" fill="#45a84f" stroke="#2a663b" stroke-width="1.8"/>
<circle cx="846.6" cy="996.0" r="12.5" fill="#45a84f" stroke="#2a663b" stroke-width="1.8"/>
<rect x="-11.5" y="-11.5" width="23.0" height="23.0" transform="translate(865.4,966.0) rotate(29.0)" fill="#2a72c6" stroke="#1f4a78" stroke-width="1.8"/>
<rect x="-11.5" y="-11.5" width="23.0" height="23.0" transform="translate(790.3,1034.6) rotate(29.0)" fill="#2a72c6" stroke="#1f4a78" stroke-width="1.8"/>
<rect x="-11.5" y="-11.5" width="23.0" height="23.0" transform="translate(774.8,1061.0) rotate(29.0)" fill="#2a72c6" stroke="#1f4a78" stroke-width="1.8"/>
</g>
<g>
<g stroke="#33475a" stroke-width="2.0" stroke-linecap="round">
<line x1="1371.7" y1="788.0" x2="1384.0" y2="810.8"/>
<line x1="1384.0" y1="810.8" x2="1412.7" y2="818.4"/>
<line x1="1410.2" y1="766.6" x2="1422.0" y2="790.0"/>
<line x1="1422.0" y1="790.0" x2="1412.7" y2="818.4"/>
<line x1="1412.7" y1="818.4" x2="1422.0" y2="839.0"/>
<line x1="1422.0" y1="839.0" x2="1433.4" y2="858.4"/>
<line x1="1433.4" y1="858.4" x2="1443.6" y2="877.9"/>
</g>
<rect x="-8.2" y="-8.2" width="16.5" height="16.5" transform="translate(1410.2,766.6) rotate(-28.0)" fill="#2a72c6" stroke="#1f4a78" stroke-width="1.6"/>
<rect x="-8.2" y="-8.2" width="16.5" height="16.5" transform="translate(1371.7,788.0) rotate(-28.0)" fill="#2a72c6" stroke="#1f4a78" stroke-width="1.6"/>
<circle cx="1422.0" cy="790.0" r="9.4" fill="#45a84f" stroke="#2a663b" stroke-width="1.6"/>
<circle cx="1384.0" cy="810.8" r="9.4" fill="#45a84f" stroke="#2a663b" stroke-width="1.6"/>
<circle cx="1412.7" cy="818.4" r="9.4" fill="#45a84f" stroke="#2a663b" stroke-width="1.6"/>
<rect x="-8.2" y="-8.2" width="16.5" height="16.5" transform="translate(1422.0,839.0) rotate(-28.0)" fill="#2a72c6" stroke="#1f4a78" stroke-width="1.6"/>
<rect x="-8.2" y="-8.2" width="16.5" height="16.5" transform="translate(1433.4,858.4) rotate(-28.0)" fill="#2a72c6" stroke="#1f4a78" stroke-width="1.6"/>
</g>
<g>
<g stroke="#33475a" stroke-width="2.2" stroke-linecap="round">
<line x1="1265.7" y1="1012.0" x2="1280.4" y2="1039.8"/>
<line x1="1280.4" y1="1039.8" x2="1314.0" y2="1048.6"/>
<line x1="1310.0" y1="986.6" x2="1326.0" y2="1014.5"/>
<line x1="1326.0" y1="1014.5" x2="1314.0" y2="1048.6"/>
<line x1="1314.0" y1="1048.6" x2="1326.0" y2="1072.7"/>
<line x1="1326.0" y1="1072.7" x2="1338.0" y2="1095.4"/>
<line x1="1338.0" y1="1095.4" x2="1350.0" y2="1118.0"/>
</g>
<rect x="-9.8" y="-9.8" width="19.5" height="19.5" transform="translate(1310.0,986.6) rotate(-28.0)" fill="#2a72c6" stroke="#1f4a78" stroke-width="1.7"/>
<rect x="-9.8" y="-9.8" width="19.5" height="19.5" transform="translate(1265.7,1012.0) rotate(-28.0)" fill="#2a72c6" stroke="#1f4a78" stroke-width="1.7"/>
<circle cx="1326.0" cy="1014.5" r="11.2" fill="#45a84f" stroke="#2a663b" stroke-width="1.7"/>
<circle cx="1280.4" cy="1039.8" r="11.2" fill="#45a84f" stroke="#2a663b" stroke-width="1.7"/>
<circle cx="1314.0" cy="1048.6" r="11.2" fill="#45a84f" stroke="#2a663b" stroke-width="1.7"/>
<rect x="-9.8" y="-9.8" width="19.5" height="19.5" transform="translate(1326.0,1072.7) rotate(-28.0)" fill="#2a72c6" stroke="#1f4a78" stroke-width="1.7"/>
<rect x="-9.8" y="-9.8" width="19.5" height="19.5" transform="translate(1338.0,1095.4) rotate(-28.0)" fill="#2a72c6" stroke="#1f4a78" stroke-width="1.7"/>
</g>
<g>
<g stroke="#33475a" stroke-width="2.0" stroke-linecap="round">
<line x1="1252.9" y1="1317.5" x2="1265.3" y2="1341.0"/>
<line x1="1265.3" y1="1341.0" x2="1294.2" y2="1347.8"/>
<line x1="1290.9" y1="1296.0" x2="1303.8" y2="1320.3"/>
<line x1="1303.8" y1="1320.3" x2="1294.2" y2="1347.8"/>
<line x1="1294.2" y1="1347.8" x2="1304.4" y2="1368.4"/>
<line x1="1304.4" y1="1368.4" x2="1314.8" y2="1387.7"/>
<line x1="1314.8" y1="1387.7" x2="1325.0" y2="1408.4"/>
</g>
<rect x="-8.8" y="-8.8" width="17.5" height="17.5" transform="translate(1290.9,1296.0) rotate(-28.0)" fill="#2a72c6" stroke="#1f4a78" stroke-width="1.6"/>
<rect x="-8.8" y="-8.8" width="17.5" height="17.5" transform="translate(1252.9,1317.5) rotate(-28.0)" fill="#2a72c6" stroke="#1f4a78" stroke-width="1.6"/>
<circle cx="1303.8" cy="1320.3" r="9.8" fill="#45a84f" stroke="#2a663b" stroke-width="1.6"/>
<circle cx="1265.3" cy="1341.0" r="9.8" fill="#45a84f" stroke="#2a663b" stroke-width="1.6"/>
<circle cx="1294.2" cy="1347.8" r="9.8" fill="#45a84f" stroke="#2a663b" stroke-width="1.6"/>
<rect x="-8.8" y="-8.8" width="17.5" height="17.5" transform="translate(1304.4,1368.4) rotate(-28.0)" fill="#2a72c6" stroke="#1f4a78" stroke-width="1.6"/>
<rect x="-8.8" y="-8.8" width="17.5" height="17.5" transform="translate(1314.8,1387.7) rotate(-28.0)" fill="#2a72c6" stroke="#1f4a78" stroke-width="1.6"/>
</g>
<g>
  <rect x="-44.5" y="-18" width="89" height="36" rx="18" ry="18" transform="translate(968.5,422) rotate(-17.7)" fill="none" stroke="#e8453c" stroke-width="4"/>
  <g fill="#e8453c">
    <polygon points="1000.2,392.3 1039,347 1045.5,356.2"/>
    <polygon points="1011,402.6 1062.7,372 1068,383.8"/>
    <polygon points="1011,417.8 1069.2,402.3 1071.9,412.8"/>
    <circle cx="936.2" cy="486.6" r="9"/>
  </g>
  <line x1="936.2" y1="486.6" x2="1074" y2="457.2" stroke="#e8453c" stroke-width="5.6"/>
</g>
<!-- 80_text -->
<g id="labels">
  <text x="774.3" y="78.6" font-size="60.2" fill="#ffffff" text-anchor="middle">Mechanism of selective modification</text>
  <text x="783.4" y="139.2" font-size="60.2" fill="#ffffff" text-anchor="middle">by GnT-V (MGAT5)</text>
  <text x="293.6" y="299.7" font-size="50.2" fill="#3f4a59" text-anchor="middle">Physiological tissue</text>
  <text x="281.5" y="427.8" font-size="50.2" fill="#3f4a59" text-anchor="middle">Mouse kidney</text>
  <text x="238.5" y="1268.3" font-size="50.2" fill="#3f4a59" text-anchor="middle">Proximal</text>
  <text x="244" y="1329.2" font-size="50.2" fill="#3f4a59" text-anchor="middle">renal tubule</text>
  <text x="1039.5" y="241.6" font-size="50.2" fill="#3f4a59" text-anchor="middle">Apical membrane</text>
  <text x="1041" y="1490" font-size="50.2" fill="#3f4a59" text-anchor="middle">Basal membrane</text>
  <text x="653" y="302.6" font-size="45" fill="#ffffff">ANPEP</text>
  <text x="653" y="355.6" font-size="45" fill="#ffffff">Meprin</text>
  <text transform="translate(813,355.6) scale(1.2,1)" x="0" y="0" font-size="47" fill="#ffffff" stroke="#ffffff" stroke-width="0.7" style="font-family:'Liberation Serif','DejaVu Serif',serif;font-weight:normal">α</text>
  <text x="1210.6" y="403.8" font-size="50.2" fill="#e8453c" text-anchor="middle">C-terminal</text>
  <text x="1217.3" y="454.2" font-size="50.2" fill="#e8453c" text-anchor="middle">region</text>
  <text x="1186.2" y="652.6" font-size="52.8" fill="#ffffff" text-anchor="middle">Protein-selective</text>
  <text x="1192.5" y="707.9" font-size="52.8" fill="#ffffff" text-anchor="middle">modification</text>
  <text x="870.5" y="802.7" font-size="50.2" fill="#e8453c" text-anchor="middle">Apical</text>
  <text x="876.5" y="852.5" font-size="50.2" fill="#e8453c" text-anchor="middle">trafficking</text>
  <text x="1052.5" y="1037.3" font-size="61" fill="#ffffff" text-anchor="middle">GnT-V</text>
  <text x="764.2" y="1227.7" font-size="50.2" fill="#3bb47c" text-anchor="middle">Modified</text>
  <text x="1013.4" y="1240.5" font-size="45" fill="#f08086" text-anchor="middle">Golgi</text>
  <text x="1361.5" y="1213" font-size="40" fill="#8b9dbb" text-anchor="middle">Unmodified</text>
</g>

</svg>
</body>
</html>
